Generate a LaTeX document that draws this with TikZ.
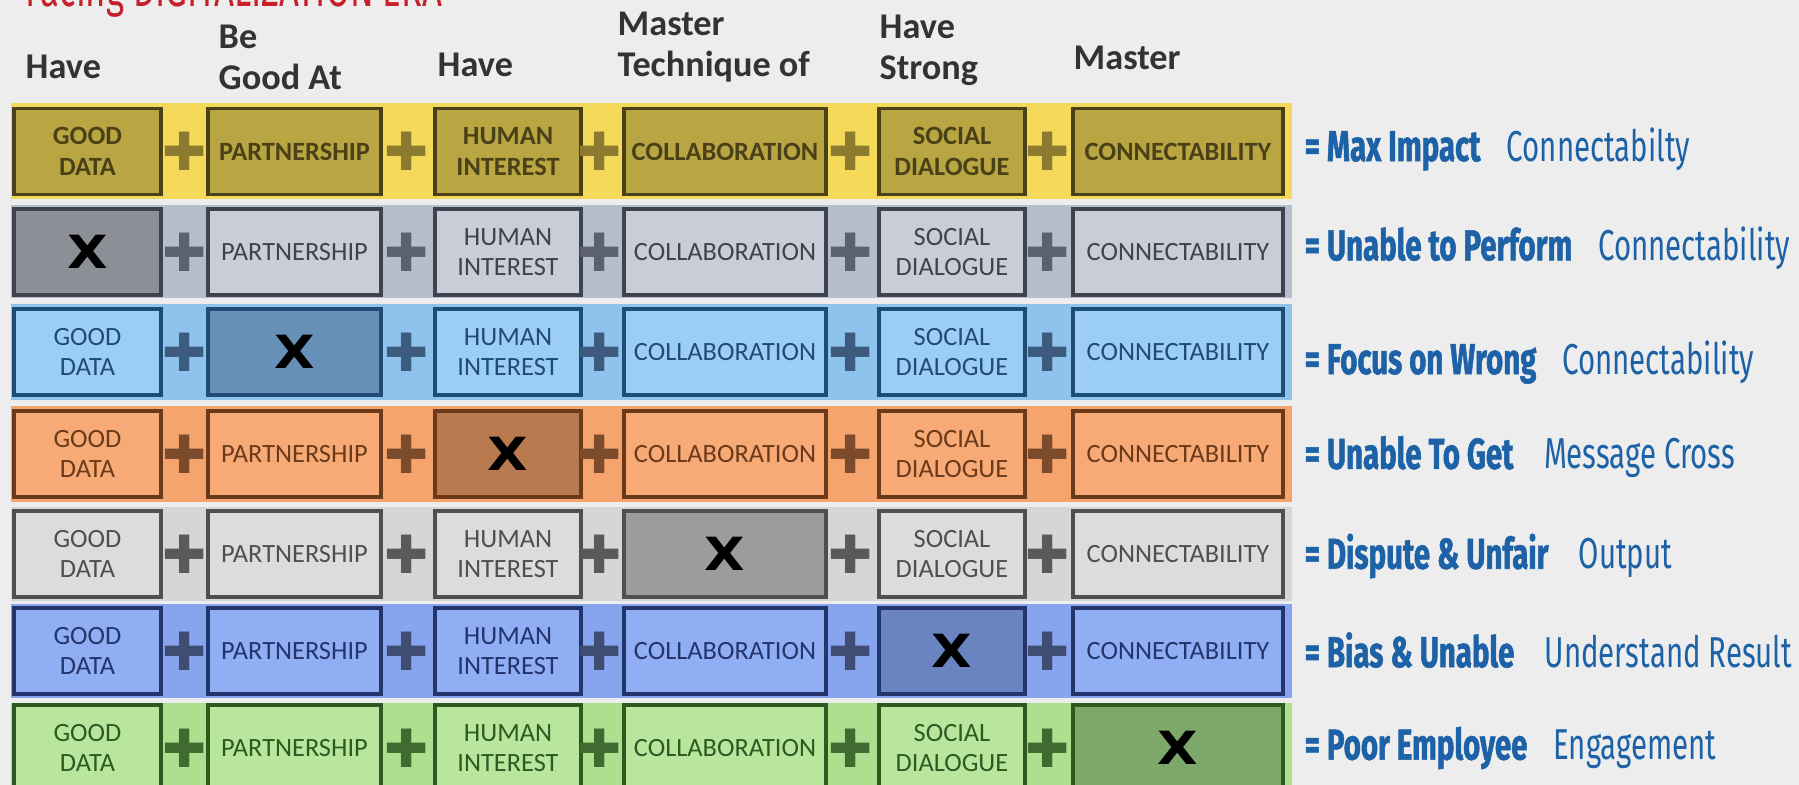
\documentclass[tikz,border=0pt]{standalone}
\usepackage{fontspec}
\setmainfont{Carlito}
\newfontfamily\resfont[FakeStretch=0.68,BoldFeatures={FakeBold=1.2}]{Fira Sans}
\newfontfamily\xfont[FakeStretch=1.15]{DejaVu Sans}
\newfontfamily\plfont{DejaVu Sans}
\usetikzlibrary{positioning}

\definecolor{bg}{HTML}{EDEDED}
\definecolor{titlered}{HTML}{C8202A}
\definecolor{headgrey}{HTML}{333333}
\definecolor{resblue}{HTML}{1D62A6}
\definecolor{bandA}{HTML}{F4D95A}\definecolor{boxA}{HTML}{B9A542}\definecolor{lineA}{HTML}{4A4118}\definecolor{plA}{HTML}{8C7B2E}
\definecolor{bandB}{HTML}{B7BECB}\definecolor{boxB}{HTML}{C8CDD7}\definecolor{lineB}{HTML}{3E4350}\definecolor{xB}{HTML}{8C8F96}\definecolor{plB}{HTML}{5C6170}
\definecolor{bandC}{HTML}{8EC3EE}\definecolor{boxC}{HTML}{9BCDF5}\definecolor{lineC}{HTML}{1F4C74}\definecolor{xC}{HTML}{6690B8}\definecolor{plC}{HTML}{3D5B7C}
\definecolor{bandD}{HTML}{F4A46C}\definecolor{boxD}{HTML}{F7AA76}\definecolor{lineD}{HTML}{6B3A1B}\definecolor{xD}{HTML}{B97A50}\definecolor{plD}{HTML}{7B4B2B}
\definecolor{bandE}{HTML}{D6D6D6}\definecolor{boxE}{HTML}{DCDCDC}\definecolor{lineE}{HTML}{4F4F4F}\definecolor{xE}{HTML}{9C9C9C}\definecolor{plE}{HTML}{5A5A5A}
\definecolor{bandF}{HTML}{87A5EE}\definecolor{boxF}{HTML}{8FAEF4}\definecolor{lineF}{HTML}{23356C}\definecolor{xF}{HTML}{6A84C2}\definecolor{plF}{HTML}{3F4D73}
\definecolor{bandG}{HTML}{ADDF8F}\definecolor{boxG}{HTML}{B7E69C}\definecolor{lineG}{HTML}{2E5A22}\definecolor{xG}{HTML}{7DA86A}\definecolor{plG}{HTML}{3F6B31}

\tikzset{
  box/.style={draw,line width=0.9pt,minimum height=0.86cm,inner sep=0pt,align=center,font=\fontsize{7.5}{8.7}\selectfont},
  boldbox/.style={box,font=\bfseries\fontsize{7.5}{8.7}\selectfont},
  xbox/.style={box,text=black,font=\xfont\bfseries\fontsize{13}{14}\selectfont},
  pl/.style={inner sep=0pt,font=\plfont\fontsize{15}{15}\selectfont},
  head/.style={anchor=west,inner sep=0pt,align=left,text=headgrey,font=\bfseries\fontsize{10.3}{11.8}\selectfont},
  res/.style={anchor=west,inner sep=0pt,text=resblue,font=\resfont\fontsize{12.3}{13}\selectfont},
  w1/.style={minimum width=1.47cm},
  w2/.style={minimum width=1.73cm},
  w3/.style={minimum width=1.46cm},
  w4/.style={minimum width=2.02cm},
  w5/.style={minimum width=1.46cm},
  w6/.style={minimum width=2.10cm}
}

\begin{document}
\begin{tikzpicture}[x=0.01cm,y=-0.01cm]
\fill[bg] (0,0) rectangle (1799,785);
\useasboundingbox (0,0) rectangle (1799,785);

\node[anchor=base west,inner sep=0pt,text=titlered,font=\resfont\fontsize{14.5}{15}\selectfont] (title) at (25,7) {Facing DIGITALIZATION ERA};

\node[head] (h1) at (25,67) {Have};
\node[head] (h2) at (218,57.5) {Be\\Good At};
\node[head] (h3) at (437,65) {Have};
\node[head] (h4) at (617,47) {Master\\Technique of};
\node[head] (h5) at (879,50.5) {Have\\Strong};
\node[head] (h6) at (1073,58) {Master};

\begin{scope}[boldbox/.append style={fill=boxA,draw=lineA,text=lineA},pl/.append style={text=plA}]
\fill[bandA] (11,103.5) rectangle (1292,199.5);
\node[boldbox,w1] (a1) at (87.5,151.5) {GOOD\\DATA};
\node[pl] (pa1) at (184.5,151.5) {✚};
\node[boldbox,w2] (a2) at (294.5,151.5) {PARTNERSHIP};
\node[pl] (pa2) at (407,151.5) {✚};
\node[boldbox,w3] (a3) at (508,151.5) {HUMAN\\INTEREST};
\node[pl] (pa3) at (600,151.5) {✚};
\node[boldbox,w4] (a4) at (725,151.5) {COLLABORATION};
\node[pl] (pa4) at (851,151.5) {✚};
\node[boldbox,w5] (a5) at (952,151.5) {SOCIAL\\DIALOGUE};
\node[pl] (pa5) at (1048,151.5) {✚};
\node[boldbox,w6] (a6) at (1178,151.5) {CONNECTABILITY};
\end{scope}
\node[res] (ra) at (1304,149) {\textbf{= Max Impact}\hspace{0.6em}Connectabilty};

\begin{scope}[box/.append style={fill=boxB,draw=lineB,text=lineB},xbox/.append style={fill=xB},pl/.append style={text=plB}]
\fill[bandB] (11,205.5) rectangle (1292,298);
\node[xbox,w1] (b1) at (87.5,252) {X};
\node[pl] (pb1) at (184.5,252) {✚};
\node[box,w2] (b2) at (294.5,252) {PARTNERSHIP};
\node[pl] (pb2) at (407,252) {✚};
\node[box,w3] (b3) at (508,252) {HUMAN\\INTEREST};
\node[pl] (pb3) at (600,252) {✚};
\node[box,w4] (b4) at (725,252) {COLLABORATION};
\node[pl] (pb4) at (851,252) {✚};
\node[box,w5] (b5) at (952,252) {SOCIAL\\DIALOGUE};
\node[pl] (pb5) at (1048,252) {✚};
\node[box,w6] (b6) at (1178,252) {CONNECTABILITY};
\end{scope}
\node[res] (rb) at (1304,248) {\textbf{= Unable to Perform}\hspace{0.6em}Connectability};

\begin{scope}[box/.append style={fill=boxC,draw=lineC,text=lineC},xbox/.append style={fill=xC},pl/.append style={text=plC}]
\fill[bandC] (11,304) rectangle (1292,400);
\node[box,w1] (c1) at (87.5,352) {GOOD\\DATA};
\node[pl] (pc1) at (184.5,352) {✚};
\node[xbox,w2] (c2) at (294.5,352) {X};
\node[pl] (pc2) at (407,352) {✚};
\node[box,w3] (c3) at (508,352) {HUMAN\\INTEREST};
\node[pl] (pc3) at (600,352) {✚};
\node[box,w4] (c4) at (725,352) {COLLABORATION};
\node[pl] (pc4) at (851,352) {✚};
\node[box,w5] (c5) at (952,352) {SOCIAL\\DIALOGUE};
\node[pl] (pc5) at (1048,352) {✚};
\node[box,w6] (c6) at (1178,352) {CONNECTABILITY};
\end{scope}
\node[res] (rc) at (1304,362) {\textbf{= Focus on Wrong}\hspace{0.6em}Connectability};

\begin{scope}[box/.append style={fill=boxD,draw=lineD,text=lineD},xbox/.append style={fill=xD},pl/.append style={text=plD}]
\fill[bandD] (11,406) rectangle (1292,502);
\node[box,w1] (d1) at (87.5,454) {GOOD\\DATA};
\node[pl] (pd1) at (184.5,454) {✚};
\node[box,w2] (d2) at (294.5,454) {PARTNERSHIP};
\node[pl] (pd2) at (407,454) {✚};
\node[xbox,w3] (d3) at (508,454) {X};
\node[pl] (pd3) at (600,454) {✚};
\node[box,w4] (d4) at (725,454) {COLLABORATION};
\node[pl] (pd4) at (851,454) {✚};
\node[box,w5] (d5) at (952,454) {SOCIAL\\DIALOGUE};
\node[pl] (pd5) at (1048,454) {✚};
\node[box,w6] (d6) at (1178,454) {CONNECTABILITY};
\end{scope}
\node[res] (rd) at (1304,457) {\textbf{= Unable To Get}\hspace{0.7em}Message Cross};

\begin{scope}[box/.append style={fill=boxE,draw=lineE,text=lineE},xbox/.append style={fill=xE},pl/.append style={text=plE}]
\fill[bandE] (11,507) rectangle (1292,601);
\node[box,w1] (e1) at (87.5,554) {GOOD\\DATA};
\node[pl] (pe1) at (184.5,554) {✚};
\node[box,w2] (e2) at (294.5,554) {PARTNERSHIP};
\node[pl] (pe2) at (407,554) {✚};
\node[box,w3] (e3) at (508,554) {HUMAN\\INTEREST};
\node[pl] (pe3) at (600,554) {✚};
\node[xbox,w4] (e4) at (725,554) {X};
\node[pl] (pe4) at (851,554) {✚};
\node[box,w5] (e5) at (952,554) {SOCIAL\\DIALOGUE};
\node[pl] (pe5) at (1048,554) {✚};
\node[box,w6] (e6) at (1178,554) {CONNECTABILITY};
\end{scope}
\node[res] (re) at (1304,556) {\textbf{= Dispute \& Unfair}\hspace{0.7em}Output};

\begin{scope}[box/.append style={fill=boxF,draw=lineF,text=lineF},xbox/.append style={fill=xF},pl/.append style={text=plF}]
\fill[bandF] (11,604) rectangle (1292,698);
\node[box,w1] (f1) at (87.5,651) {GOOD\\DATA};
\node[pl] (pf1) at (184.5,651) {✚};
\node[box,w2] (f2) at (294.5,651) {PARTNERSHIP};
\node[pl] (pf2) at (407,651) {✚};
\node[box,w3] (f3) at (508,651) {HUMAN\\INTEREST};
\node[pl] (pf3) at (600,651) {✚};
\node[box,w4] (f4) at (725,651) {COLLABORATION};
\node[pl] (pf4) at (851,651) {✚};
\node[xbox,w5] (f5) at (952,651) {X};
\node[pl] (pf5) at (1048,651) {✚};
\node[box,w6] (f6) at (1178,651) {CONNECTABILITY};
\end{scope}
\node[res] (rf) at (1304,650) {\textbf{= Bias \& Unable}\hspace{0.7em}Understand Result};

\begin{scope}[box/.append style={fill=boxG,draw=lineG,text=lineG},xbox/.append style={fill=xG},pl/.append style={text=plG}]
\fill[bandG] (11,703) rectangle (1292,799);
\node[box,w1] (g1) at (87.5,748) {GOOD\\DATA};
\node[pl] (pg1) at (184.5,748) {✚};
\node[box,w2] (g2) at (294.5,748) {PARTNERSHIP};
\node[pl] (pg2) at (407,748) {✚};
\node[box,w3] (g3) at (508,748) {HUMAN\\INTEREST};
\node[pl] (pg3) at (600,748) {✚};
\node[box,w4] (g4) at (725,748) {COLLABORATION};
\node[pl] (pg4) at (851,748) {✚};
\node[box,w5] (g5) at (952,748) {SOCIAL\\DIALOGUE};
\node[pl] (pg5) at (1048,748) {✚};
\node[xbox,w6] (g6) at (1178,748) {X};
\end{scope}
\node[res] (rg) at (1304,748) {\textbf{= Poor Employee}\hspace{0.6em}Engagement};

\end{tikzpicture}
\end{document}
